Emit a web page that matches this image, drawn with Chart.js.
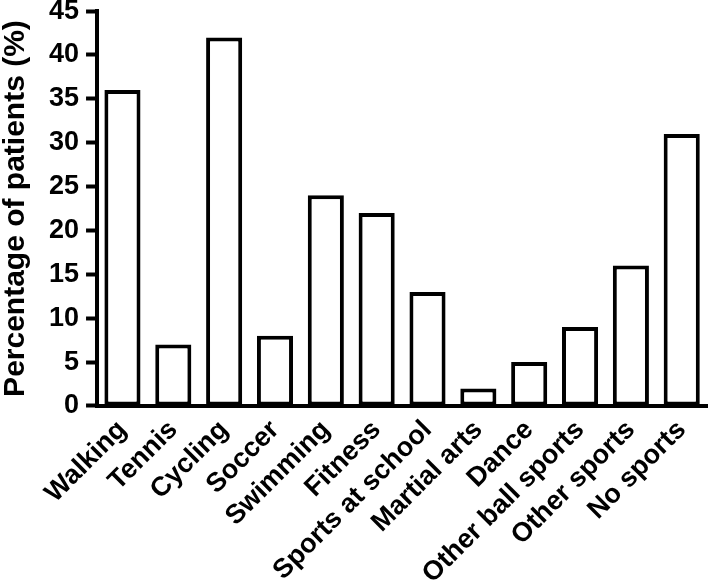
<!DOCTYPE html>
<html>
<head>
<meta charset="utf-8">
<script src="https://cdn.jsdelivr.net/npm/chart.js@4"></script>
<style>
  html, body { margin: 0; padding: 0; background: #fff; }
  #wrap { width: 709px; height: 583px; }
</style>
</head>
<body>
<div id="wrap"><canvas id="sportsChart"></canvas></div>
<script>
// categories and values
const categories = ['Walking', 'Tennis', 'Cycling', 'Soccer', 'Swimming', 'Fitness',
  'Sports at school', 'Martial arts', 'Dance', 'Other ball sports', 'Other sports', 'No sports'];
const percentages = [36, 7, 42, 8, 24, 22, 13, 2, 5, 9, 16, 31];
const yTicks = [0, 5, 10, 15, 20, 25, 30, 35, 40, 45];

const FONT = "'Liberation Sans', Arial, sans-serif";

const ctx = document.getElementById('sportsChart').getContext('2d');
new Chart(ctx, {
  type: 'bar',
  data: {
    labels: categories,
    datasets: [{
      label: 'Percentage of patients',
      data: percentages,
      backgroundColor: '#ffffff',
      borderColor: '#000000',
      borderWidth: 4,
      borderSkipped: false,
      barPercentage: 0.71,
      categoryPercentage: 1.0
    }]
  },
  options: {
    responsive: true,
    maintainAspectRatio: false,
    animation: false,
    layout: { padding: { top: 0, right: -8, bottom: -15, left: -2 } },
    plugins: { legend: { display: false }, tooltip: { enabled: false } },
    scales: {
      x: {
        grid: { display: true, drawOnChartArea: false, drawTicks: false, color: 'rgba(0,0,0,0)' },
        border: { display: true, color: '#000', width: 4 },
        ticks: {
          color: '#000',
          font: { family: FONT, size: 27, weight: 'bold', lineHeight: 0.8 },
          minRotation: 45,
          maxRotation: 45,
          padding: 12
        }
      },
      y: {
        min: 0,
        max: 45,
        afterBuildTicks: (axis) => { axis.ticks = yTicks.map(v => ({ value: v })); },
        grid: { display: true, drawOnChartArea: false, drawTicks: true, tickLength: 11, tickWidth: 4, tickColor: '#000' },
        border: { display: true, color: '#000', width: 4 },
        ticks: {
          color: '#000',
          font: { family: FONT, size: 27, weight: 'bold', lineHeight: 0.3 },
          padding: 7
        },
        title: {
          display: true,
          text: 'Percentage of patients (%)',
          color: '#000',
          font: { family: FONT, size: 30, weight: 'bold' },
          padding: { top: 0, bottom: 8 }
        }
      }
    }
  }
});
</script>
</body>
</html>
